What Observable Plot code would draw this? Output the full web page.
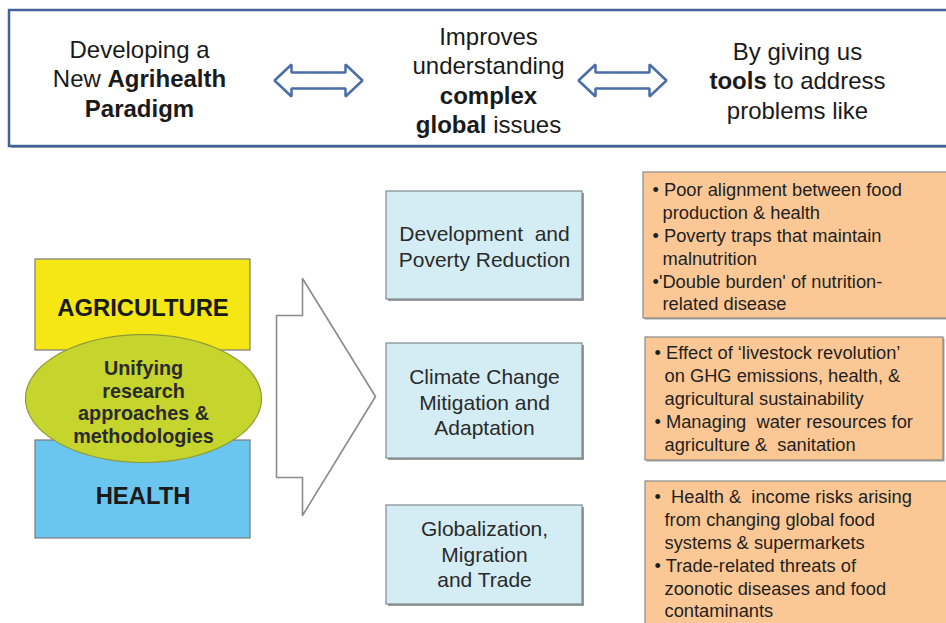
<!DOCTYPE html>
<html><head><meta charset="utf-8">
<script src="https://cdn.jsdelivr.net/npm/d3@7"></script>
<script src="https://cdn.jsdelivr.net/npm/@observablehq/plot@0.6"></script>
<style>body{margin:0;background:#fff} svg{display:block}</style>
</head><body><div id="chart"></div>
<script>
// ---------- content ----------
const headerText = [
  ["Developing a", "New **Agrihealth**", "**Paradigm**"],
  ["Improves", "understanding", "**complex**", "**global** issues"],
  ["By giving us", "**tools** to address", "problems like"]
];
const coreLabels = ["AGRICULTURE", "HEALTH"];
const unifyText = ["Unifying", "research", "approaches &", "methodologies"];
const themeText = [
  ["Development  and", "Poverty Reduction"],
  ["Climate Change", "Mitigation and", "Adaptation"],
  ["Globalization,", "Migration", "and Trade"]
];
const problemText = [
  ["• Poor alignment between food", "  production & health", "• Poverty traps that maintain", "  malnutrition", "•'Double burden' of nutrition-", "  related disease"],
  ["• Effect of ‘livestock revolution’", "  on GHG emissions, health, &", "  agricultural sustainability", "• Managing  water resources for", "  agriculture &  sanitation"],
  ["•  Health &  income risks arising", "  from changing global food", "  systems & supermarkets", "• Trade-related threats of", "  zoonotic diseases and food", "  contaminants"]
];

// ---------- layout ----------
const headerCols = [{x: 139, y0: 50}, {x: 488, y0: 37}, {x: 797, y0: 52}];
const headerStep = 29.3;
const headerBox = {x1: 9, x2: 952, y1: 10, y2: 146};
const dblArrows = [{cx: 318, cy: 80}, {cx: 622, cy: 80}];
const coreBoxes = [
  {x1: 35, x2: 250, y1: 259, y2: 350, fill: "#f4e713", ty: 308},
  {x1: 35, x2: 250, y1: 440, y2: 538, fill: "#6bc6ef", ty: 496}
];
const ellipse = {cx: 143, cy: 398, rx: 118, ry: 64};
const unifyY0 = 368, unifyStep = 22.7;
const bigArrow = [[276,315],[302,315],[302,278],[375,396],[302,515],[302,477],[276,477]];
const themeBoxes = [
  {x1: 386, x2: 582, y1: 191, y2: 299, y0: 234},
  {x1: 386, x2: 582, y1: 343, y2: 458, y0: 377},
  {x1: 386, x2: 582, y1: 505, y2: 604, y0: 529}
];
const themeStep = 25.3;
const problemBoxes = [
  {x1: 643, x2: 952, y1: 172, y2: 318, y0: 190},
  {x1: 645, x2: 943, y1: 337, y2: 460, y0: 353},
  {x1: 645, x2: 952, y1: 481, y2: 640, y0: 497}
];
const problemStep = 22.8;

// ---------- derived tables ----------
const headerRows = headerText.flatMap((lines, c) =>
  lines.map((t, i) => ({t, x: headerCols[c].x, y: headerCols[c].y0 + i * headerStep})));
const arrowPts = dblArrows.flatMap((a, k) => {
  const L = 44, h = 17, H = 16, s = 8;
  return [[-L,0],[-L+h,-H],[-L+h,-s],[L-h,-s],[L-h,-H],[L,0],[L-h,H],[L-h,s],[-L+h,s],[-L+h,H]]
    .map(([dx, dy]) => ({k, x: a.cx + dx, y: a.cy + dy}));
});
const ellPts = d3.range(0, 360, 3).map(a => ({
  x: ellipse.cx + ellipse.rx * Math.cos(a * Math.PI / 180),
  y: ellipse.cy + ellipse.ry * Math.sin(a * Math.PI / 180)
}));
const unifyRows = unifyText.map((t, i) => ({t, x: ellipse.cx, y: unifyY0 + i * unifyStep}));
const coreRows = coreBoxes.map((b, i) => ({...b, t: coreLabels[i], tx: (b.x1 + b.x2) / 2}));
const themeRows = themeText.flatMap((lines, b) =>
  lines.map((t, i) => ({t, x: (themeBoxes[b].x1 + themeBoxes[b].x2) / 2, y: themeBoxes[b].y0 + i * themeStep})));
const problemRows = problemText.flatMap((lines, b) =>
  lines.map((t, i) => {
    const ind = t.startsWith("  ");
    return {t: t.replace(/^ +/, ""), x: problemBoxes[b].x1 + (ind ? 19 : 9), y: problemBoxes[b].y0 + i * problemStep};
  }));
const bigArrowPts = bigArrow.map(([x, y]) => ({x, y}));

const shadow = (b, d) => ({x1: b.x1 + d, x2: b.x2 + d, y1: b.y1 + d, y2: b.y2 + d});

const chart = Plot.plot({
  width: 946, height: 623,
  margin: 0,
  x: {domain: [0, 946], range: [0, 946], axis: null},
  y: {domain: [0, 623], range: [0, 623], axis: null},
  style: {fontFamily: "'Liberation Sans', Arial, sans-serif", background: "#fff", overflow: "hidden"},
  marks: [
    // header box
    Plot.rect([shadow(headerBox, 2)], {x1: "x1", x2: "x2", y1: "y1", y2: "y2", fill: "#a7a7a7"}),
    Plot.rect([headerBox], {x1: "x1", x2: "x2", y1: "y1", y2: "y2", fill: "#fff", stroke: "#41639a", strokeWidth: 2.5}),
    Plot.text(headerRows, {x: "x", y: "y", text: "t", fontSize: 24, fill: "#1a1a1a"}),
    Plot.line(arrowPts, {x: "x", y: "y", z: "k", curve: "linear-closed", fill: "#fff", stroke: "#4a6ea8", strokeWidth: 2.5, strokeLinejoin: "miter"}),
    // core boxes
    Plot.rect(coreRows, {x1: "x1", x2: "x2", y1: "y1", y2: "y2", fill: "fill", stroke: "#7a7a7a", strokeWidth: 1.2}),
    Plot.text(coreRows, {x: "tx", y: "ty", text: "t", fontSize: 23.8, fontWeight: "bold", fill: "#1a1a1a"}),
    Plot.line(ellPts, {x: "x", y: "y", curve: "linear-closed", fill: "#c6d42e", stroke: "#8d9a3a", strokeWidth: 1.2}),
    Plot.text(unifyRows, {x: "x", y: "y", text: "t", fontSize: 19.8, fontWeight: "bold", fill: "#2a2a2a"}),
    // big arrow
    Plot.line(bigArrowPts, {x: "x", y: "y", curve: "linear-closed", fill: "#fff", stroke: "#8a8a8a", strokeWidth: 1.6}),
    // theme boxes
    Plot.rect(themeBoxes.map(b => shadow(b, 2)), {x1: "x1", x2: "x2", y1: "y1", y2: "y2", fill: "#9a9a9a"}),
    Plot.rect(themeBoxes, {x1: "x1", x2: "x2", y1: "y1", y2: "y2", fill: "#d4edf4", stroke: "#7d8a8e", strokeWidth: 1.2}),
    Plot.text(themeRows, {x: "x", y: "y", text: "t", fontSize: 21, fill: "#2a2a2a"}),
    // problem boxes
    Plot.rect(problemBoxes.map(b => shadow(b, 1.5)), {x1: "x1", x2: "x2", y1: "y1", y2: "y2", fill: "#a0a0a0"}),
    Plot.rect(problemBoxes, {x1: "x1", x2: "x2", y1: "y1", y2: "y2", fill: "#fbc895", stroke: "#8a8a8a", strokeWidth: 1.2}),
    Plot.text(problemRows, {x: "x", y: "y", text: "t", textAnchor: "start", fontSize: 18.3, fill: "#1f1f1f"})
  ]
});

// mixed bold: **word** → bold tspan
d3.select(chart).selectAll("text").each(function () {
  const el = this;
  if (el.children.length || !el.textContent.includes("**")) return;
  const parts = el.textContent.split("**");
  el.textContent = "";
  parts.forEach((p, i) => {
    if (!p) return;
    const ts = document.createElementNS("http://www.w3.org/2000/svg", "tspan");
    ts.textContent = p;
    if (i % 2 === 1) ts.setAttribute("font-weight", "bold");
    el.appendChild(ts);
  });
});
document.getElementById("chart").appendChild(chart);
</script>
</body></html>
